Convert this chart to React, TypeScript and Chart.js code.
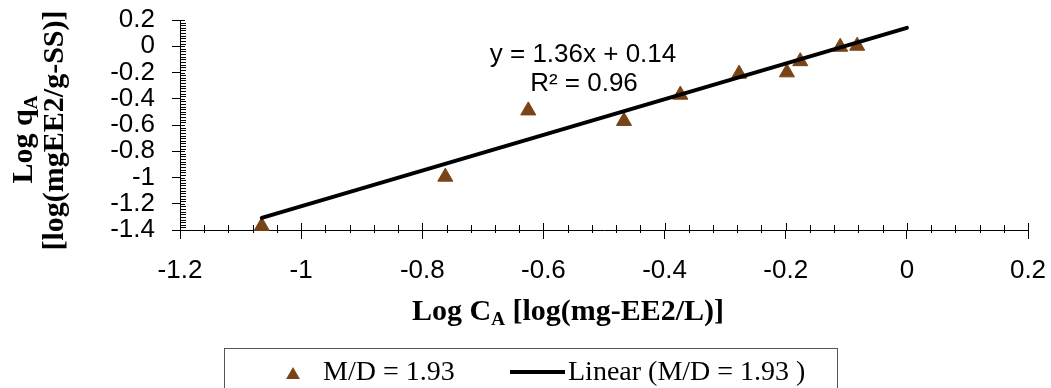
import React, { useEffect, useRef } from "react";
import { Chart, registerables } from "chart.js";

Chart.register(...registerables);

// ---- data ----
const seriesLabel = "M/D = 1.93";
const trendLabel = "Linear (M/D = 1.93 )";
const logCA = [-1.065, -0.762, -0.625, -0.467, -0.374, -0.277, -0.198, -0.176, -0.11, -0.082];
const logQA = [-1.37, -0.995, -0.49, -0.57, -0.37, -0.21, -0.2, -0.115, -0.005, 0.003];
const trendX = [-1.065, 0];
const trendY = [-1.308, 0.14];
const equationLines = ["y = 1.36x + 0.14", "R² = 0.96"];
const xTitleParts = ["Log C", "A", " [log(mg-EE2/L)]"];
const yTitleLine1 = ["Log q", "A"];
const yTitleLine2 = "[log(mgEE2/g-SS)]";
const xMin = -1.2;
const xMax = 0.2;
const yMin = -1.4;
const yMax = 0.2;
const majorStep = 0.2;
const xMinorStep = 0.04;
const yMinorStep = 0.02;

const BROWN = "#7a4316";
const SANS = "'Liberation Sans', Arial, sans-serif";
const SERIF = "'Liberation Serif', 'Times New Roman', serif";

const fmt = (v: number) => {
  const r = Math.round(v * 10) / 10;
  return r === 0 ? "0" : String(r);
};

const decorPlugin = {
  id: "decor",
  afterDraw(chart: any) {
    const ctx: CanvasRenderingContext2D = chart.ctx;
    const xs = chart.scales.x;
    const ys = chart.scales.y;
    const { left, bottom } = chart.chartArea;
    const al = (p: number) => Math.round(p) + 0.5;
    ctx.save();
    ctx.strokeStyle = "#000";
    ctx.lineWidth = 1;
    ctx.beginPath();
    const nx = Math.round((xMax - xMin) / xMinorStep);
    for (let i = 0; i <= nx; i++) {
      const px = al(xs.getPixelForValue(xMin + i * xMinorStep));
      if (i % 5 === 0) {
        ctx.moveTo(px, bottom - 7);
        ctx.lineTo(px, bottom);
      } else {
        ctx.moveTo(px, bottom - 5);
        ctx.lineTo(px, bottom + 3);
      }
    }
    const ny = Math.round((yMax - yMin) / yMinorStep);
    for (let i = 0; i <= ny; i++) {
      const py = al(ys.getPixelForValue(yMin + i * yMinorStep));
      if (i % 10 === 0) {
        ctx.moveTo(left, py);
        ctx.lineTo(left + 5, py);
      } else {
        ctx.moveTo(left, py);
        ctx.lineTo(left + 6, py);
      }
    }
    ctx.stroke();

    // equation
    ctx.fillStyle = "#000";
    ctx.font = `26px ${SANS}`;
    ctx.textAlign = "center";
    ctx.textBaseline = "alphabetic";
    ctx.fillText(equationLines[0], 583, 62);
    ctx.fillText(equationLines[1], 584, 91);

    // x title
    ctx.textAlign = "left";
    let x = 412;
    const by = 320;
    ctx.font = `bold 30px ${SERIF}`;
    ctx.fillText(xTitleParts[0], x, by);
    x += ctx.measureText(xTitleParts[0]).width;
    ctx.font = `bold 19px ${SERIF}`;
    ctx.fillText(xTitleParts[1], x, by + 5);
    x += ctx.measureText(xTitleParts[1]).width;
    ctx.font = `bold 30px ${SERIF}`;
    ctx.fillText(xTitleParts[2], x, by);

    // y title (rotated)
    ctx.save();
    ctx.translate(32, 139.5);
    ctx.rotate(-Math.PI / 2);
    ctx.font = `bold 30px ${SERIF}`;
    const w1 = ctx.measureText(yTitleLine1[0]).width;
    ctx.font = `bold 19px ${SERIF}`;
    const w2 = ctx.measureText(yTitleLine1[1]).width;
    let lx = -(w1 + w2) / 2;
    ctx.font = `bold 30px ${SERIF}`;
    ctx.fillText(yTitleLine1[0], lx, 0);
    lx += w1;
    ctx.font = `bold 19px ${SERIF}`;
    ctx.fillText(yTitleLine1[1], lx, 5);
    ctx.restore();

    ctx.save();
    ctx.translate(63, 130.5);
    ctx.rotate(-Math.PI / 2);
    ctx.font = `bold 30px ${SERIF}`;
    ctx.textAlign = "center";
    ctx.fillText(yTitleLine2, 0, 0);
    ctx.restore();

    // legend
    ctx.strokeStyle = "#555";
    ctx.lineWidth = 1;
    ctx.strokeRect(224.5, 348.5, 613, 60);
    const tx = 293, ty = 375, r = 8;
    ctx.fillStyle = BROWN;
    ctx.beginPath();
    ctx.moveTo(tx, ty - r);
    ctx.lineTo(tx + r * 0.866, ty + r / 2);
    ctx.lineTo(tx - r * 0.866, ty + r / 2);
    ctx.closePath();
    ctx.fill();
    ctx.fillStyle = "#000";
    ctx.font = `28px ${SERIF}`;
    ctx.textAlign = "left";
    ctx.fillText(seriesLabel, 323, 380);
    ctx.strokeStyle = "#000";
    ctx.lineWidth = 4;
    ctx.beginPath();
    ctx.moveTo(510, 372);
    ctx.lineTo(565, 372);
    ctx.stroke();
    ctx.fillText(trendLabel, 568, 380);
    ctx.restore();
  },
};

export default function App() {
  const ref = useRef<HTMLCanvasElement | null>(null);
  useEffect(() => {
    if (!ref.current) return;
    const tickFont = { family: SANS, size: 26 };
    const chart = new Chart(ref.current, {
      type: "scatter",
      data: {
        datasets: [
          {
            type: "line",
            label: trendLabel,
            data: trendX.map((x, i) => ({ x, y: trendY[i] })),
            borderColor: "#000",
            borderWidth: 4,
            borderCapStyle: "round",
            pointRadius: 0,
            showLine: true,
            fill: false,
            order: 0,
            clip: false,
          } as any,
          {
            type: "scatter",
            label: seriesLabel,
            data: logCA.map((x, i) => ({ x, y: logQA[i] })),
            pointStyle: "triangle",
            pointRadius: 8.7,
            backgroundColor: BROWN,
            borderColor: BROWN,
            borderWidth: 1,
            order: 1,
            clip: false,
          } as any,
        ],
      },
      options: {
        animation: false,
        responsive: false,
        devicePixelRatio: 1,
        layout: { padding: { top: 20, left: 0, right: 23, bottom: 0 } },
        plugins: {
          legend: { display: false },
          tooltip: { enabled: false },
          title: { display: false },
        },
        scales: {
          x: {
            type: "linear",
            position: "bottom",
            min: xMin,
            max: xMax,
            ticks: {
              stepSize: majorStep,
              font: tickFont,
              color: "#000",
              padding: 16,
              maxRotation: 0,
              autoSkip: false,
              callback: (v: any) => fmt(Number(v)),
            },
            grid: {
              drawOnChartArea: false,
              tickLength: 9,
              color: "#000",
              tickColor: "#000",
            },
            border: { color: "#000", width: 1 },
            afterFit: (s: any) => {
              s.height = 158;
              s.paddingLeft = 0;
              s.paddingRight = 0;
            },
          },
          y: {
            type: "linear",
            min: yMin,
            max: yMax,
            ticks: {
              stepSize: majorStep,
              font: tickFont,
              color: "#000",
              padding: 17,
              autoSkip: false,
              callback: (v: any) => fmt(Number(v)),
            },
            grid: {
              drawOnChartArea: false,
              tickLength: 8,
              color: "#000",
              tickColor: "#000",
            },
            border: { color: "#000", width: 1 },
            afterFit: (s: any) => {
              s.width = 180;
              s.paddingTop = 0;
              s.paddingBottom = 0;
            },
          },
        },
      } as any,
      plugins: [decorPlugin],
    });
    return () => chart.destroy();
  }, []);
  return (
    <div style={{ position: "absolute", left: 0, top: 0, width: 1051, height: 388, background: "#fff" }}>
      <canvas ref={ref} width={1051} height={388} style={{ display: "block" }} />
    </div>
  );
}
